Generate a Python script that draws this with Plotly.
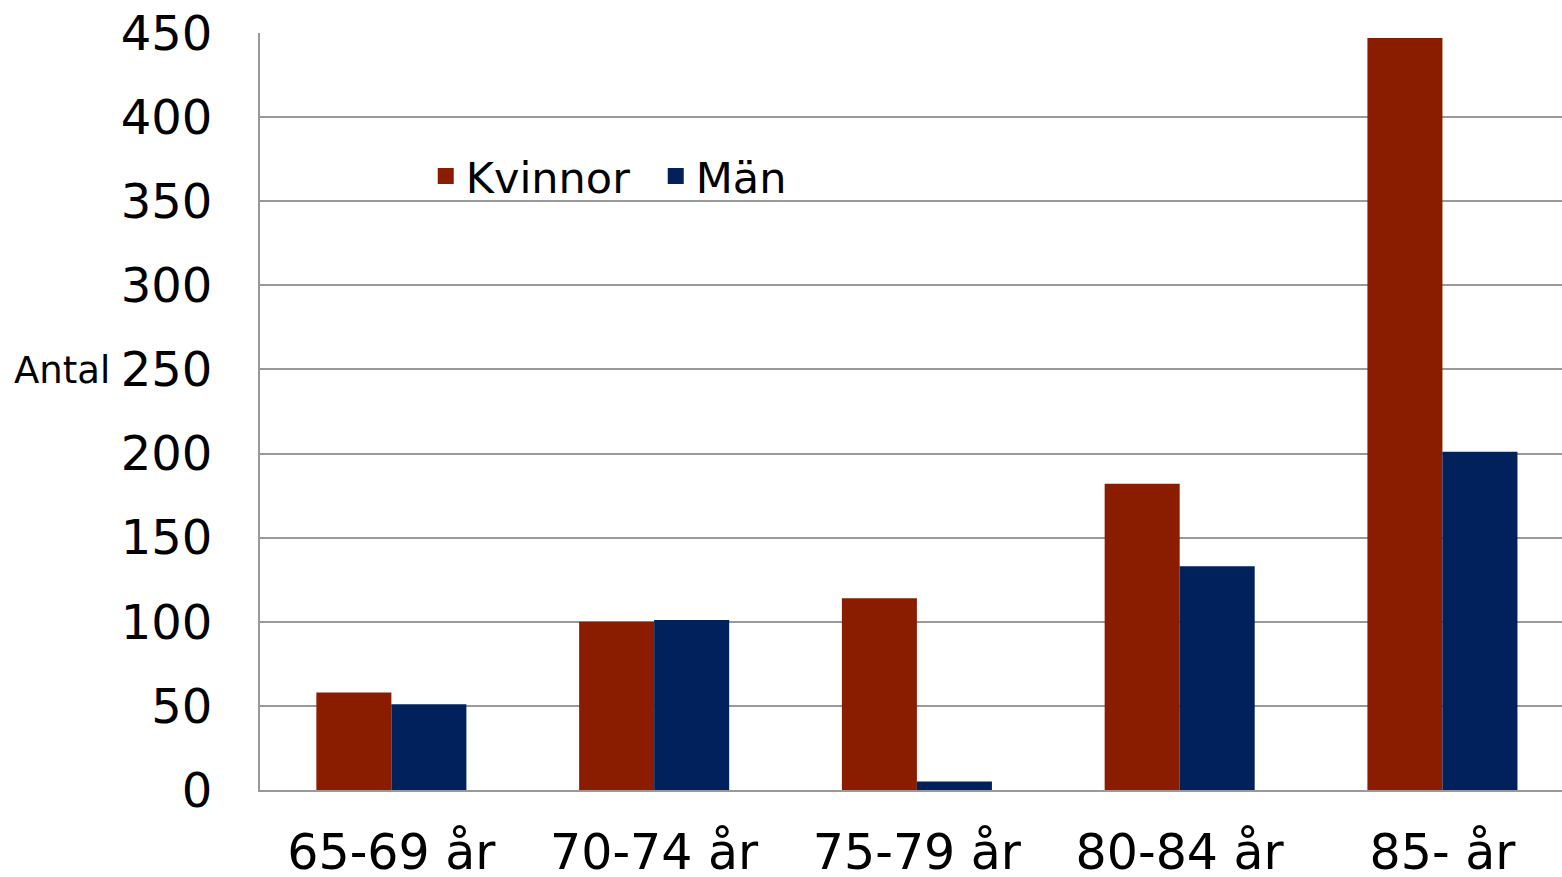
import plotly.graph_objects as go

categories = ["65-69 år", "70-74 år", "75-79 år", "80-84 år", "85- år"]
kvinnor = [58, 100, 114, 182, 447]
man = [51, 101, 5, 133, 201]
y_ticks = [0, 50, 100, 150, 200, 250, 300, 350, 400, 450]
series_names = ["Kvinnor", "Män"]
colors = ["#8A1C00", "#00215C"]

FONT = "DejaVu Sans, Verdana, sans-serif"

fig = go.Figure()
for name, vals, col in zip(series_names, [kvinnor, man], colors):
    fig.add_trace(go.Bar(name=name, x=categories, y=vals, showlegend=False,
                         marker=dict(color=col, line=dict(width=0))))
for name, col in zip(series_names, colors):
    fig.add_trace(go.Scatter(name=name, x=[None], y=[None], mode="markers",
                             marker=dict(symbol="square", size=24, color=col)))

fig.update_layout(
    width=1562, height=877,
    margin=dict(l=260, r=0, t=33, b=87),
    paper_bgcolor="white", plot_bgcolor="white",
    barmode="group", bargap=0.429, bargroupgap=0,
    font=dict(family=FONT, color="black"),
    legend=dict(orientation="h", x=0.1273, y=0.811, xanchor="left", yanchor="middle",
                font=dict(size=43, family=FONT), bgcolor="rgba(0,0,0,0)",
                itemwidth=30, tracegroupgap=0, entrywidth=185),
    annotations=[dict(text="Antal", xref="paper", yref="paper", x=-0.1908, y=0.554,
                      xanchor="left", yanchor="middle", showarrow=False,
                      font=dict(size=37, family=FONT, color="black"))],
)
fig.update_xaxes(range=[-0.5, 4.455], showgrid=False, showline=True, linecolor="#999999", linewidth=2,
                 automargin=False, ticks="", tickfont=dict(size=49, family=FONT),
                 ticklabelstandoff=18)
fig.update_yaxes(range=[0, 450], tickvals=y_ticks, showgrid=True, gridcolor="#999999", gridwidth=2,
                 showline=True, linecolor="#999999", linewidth=2, zeroline=False,
                 automargin=False, ticks="", tickfont=dict(size=48, family=FONT),
                 ticklabelstandoff=36)

fig.write_html("out.html", config={"displayModeBar": False},
               post_script="document.body.style.margin='0';document.documentElement.style.overflow='hidden';")
